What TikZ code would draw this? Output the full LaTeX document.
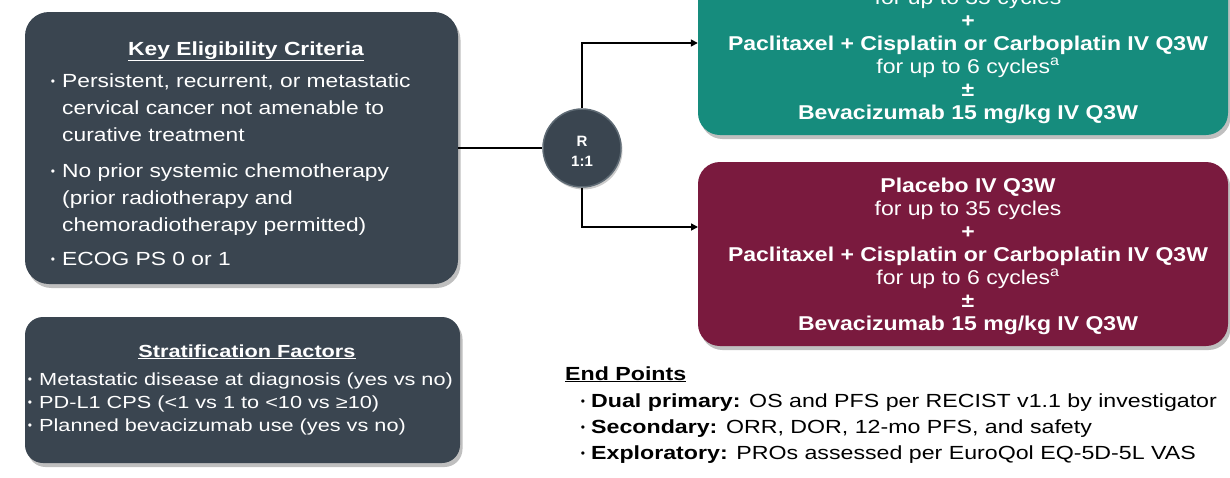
\documentclass[tikz,border=0pt]{standalone}
\usepackage{fontspec}
\setmainfont{Liberation Sans}
\newfontfamily\fkey[FakeStretch=1.2]{Liberation Sans}
\newfontfamily\fstrat[FakeStretch=1.24]{Liberation Sans}
\newfontfamily\farm[FakeStretch=1.15]{Liberation Sans}
\newfontfamily\fend[FakeStretch=1.22]{Liberation Sans}
\usetikzlibrary{shadows,arrows.meta}
\definecolor{slate}{HTML}{3A4550}
\definecolor{slateedge}{HTML}{5E6A74}
\definecolor{teal1}{HTML}{168C7D}
\definecolor{maroon1}{HTML}{7A1A3E}
\tikzset{
  box/.style={rounded corners=24pt, inner sep=0, draw=none,
    drop shadow={opacity=0.5, shadow xshift=2.5pt, shadow yshift=-4pt}},
  keytxt/.style={anchor=base west, inner sep=0, text=white, font=\fkey\fontsize{19}{23}\selectfont},
  keyttl/.style={anchor=base, inner sep=0, text=white, font=\fkey\bfseries\fontsize{19}{23}\selectfont},
  strtxt/.style={anchor=base west, inner sep=0, text=white, font=\fstrat\fontsize{17.5}{21}\selectfont},
  strttl/.style={anchor=base, inner sep=0, text=white, font=\fstrat\bfseries\fontsize{17.5}{21}\selectfont},
  armb/.style={anchor=base, inner sep=0, text=white, font=\farm\bfseries\fontsize{20}{23}\selectfont},
  armr/.style={anchor=base, inner sep=0, text=white, font=\farm\fontsize{20}{23}\selectfont},
  endtxt/.style={anchor=base west, inner sep=0, text=black, font=\fend\fontsize{19}{23}\selectfont},
  bulw/.style={anchor=base, inner sep=0, text=white, font=\fontsize{12}{14}\selectfont, yshift=1.5pt},
  bulk/.style={anchor=base, inner sep=0, text=black, font=\fontsize{12}{14}\selectfont, yshift=1.5pt},
  conn/.style={draw=black, line width=1.6pt},
  tip/.style={-{Triangle[length=7pt,width=7pt]}}
}
\begin{document}
\begin{tikzpicture}[x=1pt,y=-1pt]
\useasboundingbox (0,0) rectangle (1230,477);
\fill[white] (0,0) rectangle (1230,477);
\begin{scope}
\clip (0,0) rectangle (1230,477);
% boxes
\node[box, fill=slate, minimum width=433pt, minimum height=272pt] (key) at (241.5,148) {};
\node[box, fill=slate, rounded corners=18pt, minimum width=435pt, minimum height=146pt] (strat) at (242.5,390) {};
\node[box, fill=teal1, rounded corners=22pt, minimum width=530pt, minimum height=184pt] (teal) at (963,43) {};
\node[box, fill=maroon1, rounded corners=22pt, minimum width=530pt, minimum height=184pt] (maroon) at (963,254) {};
\node[circle, fill=slate, draw=slateedge, line width=1.5pt, minimum size=78pt, inner sep=0,
  drop shadow={opacity=0.4, shadow xshift=1.5pt, shadow yshift=-2.5pt}] (rnd) at (582,148) {};
\node[anchor=base, inner sep=0, text=white, font=\bfseries\fontsize{15}{18}\selectfont] (rR) at (582,146) {R};
\node[anchor=base, inner sep=0, text=white, font=\bfseries\fontsize{15}{18}\selectfont] (r11) at (582,166) {1:1};

% connectors
\coordinate (min) at (698,227);
\draw[conn] (key.east) -- (rnd.west);
\draw[conn, tip] (rnd.north) |- (teal.west);
\draw[conn, tip] (rnd.south) |- (min);

% key eligibility
\node[keyttl] (kt) at (246,55) {\underline{Key Eligibility Criteria}};
\node[bulw] (kb1) at (53,87) {•};
\node[keytxt] (k1) at (62,87) {Persistent, recurrent, or metastatic};
\node[keytxt] (k2) at (62,114) {cervical cancer not amenable to};
\node[keytxt] (k3) at (62,141) {curative treatment};
\node[bulw] (kb2) at (53,177) {•};
\node[keytxt] (k4) at (62,177) {No prior systemic chemotherapy};
\node[keytxt] (k5) at (62,204) {(prior radiotherapy and};
\node[keytxt] (k6) at (62,231) {chemoradiotherapy permitted)};
\node[bulw] (kb3) at (53,265) {•};
\node[keytxt] (k7) at (62,265) {ECOG PS 0 or 1};

% stratification
\node[strttl] (st) at (247,357) {\underline{Stratification Factors}};
\node[bulw] (sb1) at (30,385) {•};
\node[strtxt] (s1) at (39,385) {Metastatic disease at diagnosis (yes vs no)};
\node[bulw] (sb2) at (30,408) {•};
\node[strtxt] (s2) at (39,408) {PD-L1 CPS (<1 vs 1 to <10 vs ≥10)};
\node[bulw] (sb3) at (30,431) {•};
\node[strtxt] (s3) at (39,431) {Planned bevacizumab use (yes vs no)};

% teal arm
\node[armr] (t0) at (968,4) {for up to 35 cycles};
\node[armb] (t1) at (968,27) {+};
\node[armb] (t2) at (968,50) {Paclitaxel + Cisplatin or Carboplatin IV Q3W};
\node[armr] (t3) at (968,73) {for up to 6 cycles\textsuperscript{a}};
\node[armb] (t4) at (968,96) {±};
\node[armb] (t5) at (968,119) {Bevacizumab 15 mg/kg IV Q3W};

% maroon arm
\node[armb] (m1) at (968,192) {Placebo IV Q3W};
\node[armr] (m2) at (968,215) {for up to 35 cycles};
\node[armb] (m3) at (968,238) {+};
\node[armb] (m4) at (968,261) {Paclitaxel + Cisplatin or Carboplatin IV Q3W};
\node[armr] (m5) at (968,284) {for up to 6 cycles\textsuperscript{a}};
\node[armb] (m6) at (968,307) {±};
\node[armb] (m7) at (968,330) {Bevacizumab 15 mg/kg IV Q3W};

% end points
\node[endtxt, font=\fend\bfseries\fontsize{19}{23}\selectfont] (et) at (565,380) {\underline{End Points}};
\node[bulk] (eb1) at (583,407) {•};
\node[endtxt] (e1) at (591,407) {\textbf{Dual primary:} OS and PFS per RECIST v1.1 by investigator};
\node[bulk] (eb2) at (583,433) {•};
\node[endtxt] (e2) at (591,433) {\textbf{Secondary:} ORR, DOR, 12-mo PFS, and safety};
\node[bulk] (eb3) at (583,459) {•};
\node[endtxt] (e3) at (591,459) {\textbf{Exploratory:} PROs assessed per EuroQol EQ-5D-5L VAS};
\end{scope}
\end{tikzpicture}
\end{document}
